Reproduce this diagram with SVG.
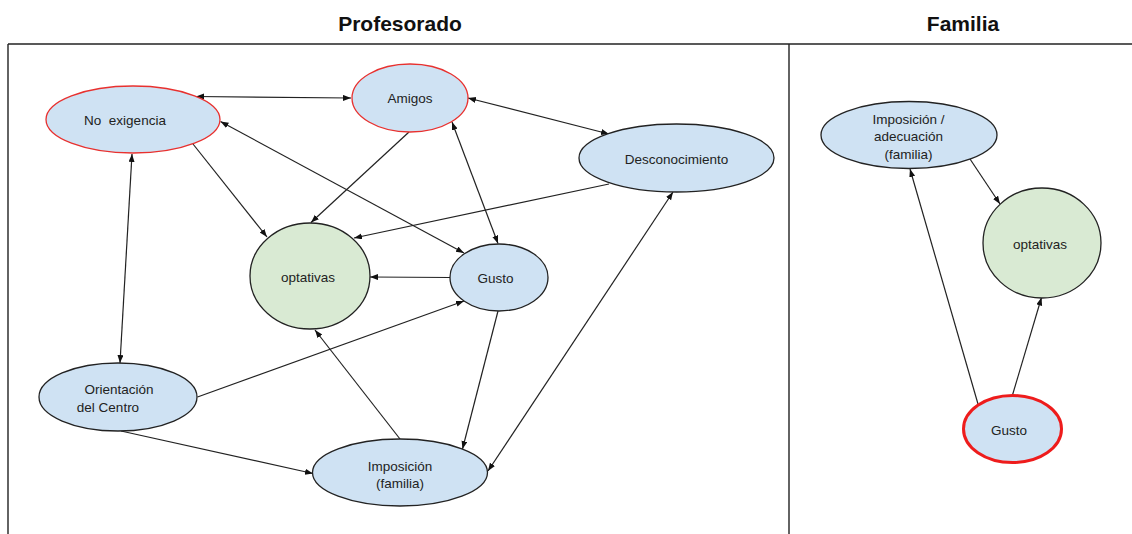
<svg xmlns="http://www.w3.org/2000/svg" width="1132" height="534" viewBox="0 0 1132 534">
<style>
.title{font-family:"Liberation Sans",Arial,sans-serif;font-weight:bold;font-size:21px;fill:#111;text-anchor:middle}
.lbl{font-family:"Liberation Sans",Arial,sans-serif;font-size:13.5px;fill:#222;text-anchor:middle;dominant-baseline:central}
.blue{fill:#cfe2f3;stroke:#222;stroke-width:1.3}
.green{fill:#d9ead3;stroke:#222;stroke-width:1.3}
.red{stroke:#e8312f}
.thick{stroke:#ee1c1c;stroke-width:3}
.frame{stroke:#222;stroke-width:1.4;fill:none}
.c{stroke:#222;stroke-width:1.2;fill:none;marker-end:url(#ah)}
.b{marker-start:url(#ah)}
</style>
<defs>
<marker id="ah" markerUnits="userSpaceOnUse" markerWidth="9" markerHeight="7" refX="8" refY="3" orient="auto-start-reverse">
<path d="M0,0 L8,3 L0,6 z" fill="#111"/>
</marker>
</defs>
<rect width="1132" height="534" fill="#fff"/>
<g id="frame">
<line class="frame" x1="8" y1="44" x2="1132" y2="44"/>
<line class="frame" x1="8" y1="44" x2="8" y2="534"/>
<line class="frame" x1="789" y1="44" x2="789" y2="534"/>
<text class="title" x="400" y="31">Profesorado</text>
<text class="title" x="963" y="31">Familia</text>
</g>
<g id="connectors">
<line class="c b" x1="196" y1="96.5" x2="351" y2="98"/>
<line class="c b" x1="468" y1="98" x2="609" y2="134"/>
<line class="c b" x1="220.5" y1="121.5" x2="464" y2="253"/>
<line class="c" x1="193" y1="144" x2="267" y2="237"/>
<line class="c" x1="409" y1="132" x2="311" y2="222.5"/>
<line class="c b" x1="452" y1="122" x2="498" y2="243.5"/>
<line class="c" x1="609" y1="184" x2="354" y2="238"/>
<line class="c" x1="450" y1="277.5" x2="370" y2="277"/>
<line class="c b" x1="673" y1="192" x2="488" y2="471"/>
<line class="c b" x1="132" y1="154" x2="120" y2="363"/>
<line class="c" x1="197.5" y1="397" x2="464" y2="301"/>
<line class="c" x1="121" y1="431" x2="313" y2="473.5"/>
<line class="c" x1="400" y1="439" x2="315" y2="330"/>
<line class="c" x1="498" y1="311" x2="462.5" y2="449"/>
<line class="c" x1="970" y1="159" x2="1000" y2="204"/>
<line class="c" x1="978" y1="404" x2="910" y2="169"/>
<line class="c" x1="1012.5" y1="395" x2="1041.5" y2="297.5"/>
</g>
<g id="no-exigencia">
<ellipse class="blue red" cx="133" cy="119.5" rx="87" ry="33.5"/>
<text class="lbl" x="125" y="120" xml:space="preserve">No  exigencia</text>
</g>
<g id="amigos">
<ellipse class="blue red" cx="410" cy="98" rx="58" ry="34"/>
<text class="lbl" x="410" y="98">Amigos</text>
</g>
<g id="desconocimiento">
<ellipse class="blue" cx="676.5" cy="158" rx="97.5" ry="34"/>
<text class="lbl" x="676.5" y="159">Desconocimiento</text>
</g>
<g id="optativas">
<ellipse class="green" cx="310" cy="276" rx="60" ry="53"/>
<text class="lbl" x="308" y="277">optativas</text>
</g>
<g id="gusto">
<ellipse class="blue" cx="499" cy="277.5" rx="49" ry="33.5"/>
<text class="lbl" x="495.5" y="278">Gusto</text>
</g>
<g id="orientacion">
<ellipse class="blue" cx="118" cy="397" rx="79" ry="34"/>
<text class="lbl" x="119" y="389">Orientación</text>
<text class="lbl" x="108" y="407">del Centro</text>
</g>
<g id="imposicion">
<ellipse class="blue" cx="400" cy="472.5" rx="87.5" ry="33.5"/>
<text class="lbl" x="400" y="466">Imposición</text>
<text class="lbl" x="400" y="483">(familia)</text>
</g>
<g id="imposicion-adecuacion">
<ellipse class="blue" cx="909" cy="135" rx="88" ry="33.5"/>
<text class="lbl" x="908.5" y="119">Imposición /</text>
<text class="lbl" x="908.5" y="136">adecuación</text>
<text class="lbl" x="908.5" y="154">(familia)</text>
</g>
<g id="optativas-familia">
<ellipse class="green" cx="1042" cy="243" rx="59" ry="55"/>
<text class="lbl" x="1040" y="244">optativas</text>
</g>
<g id="gusto-familia">
<ellipse class="blue thick" cx="1012.5" cy="429" rx="49" ry="33.5"/>
<text class="lbl" x="1009" y="430">Gusto</text>
</g>
</svg>
